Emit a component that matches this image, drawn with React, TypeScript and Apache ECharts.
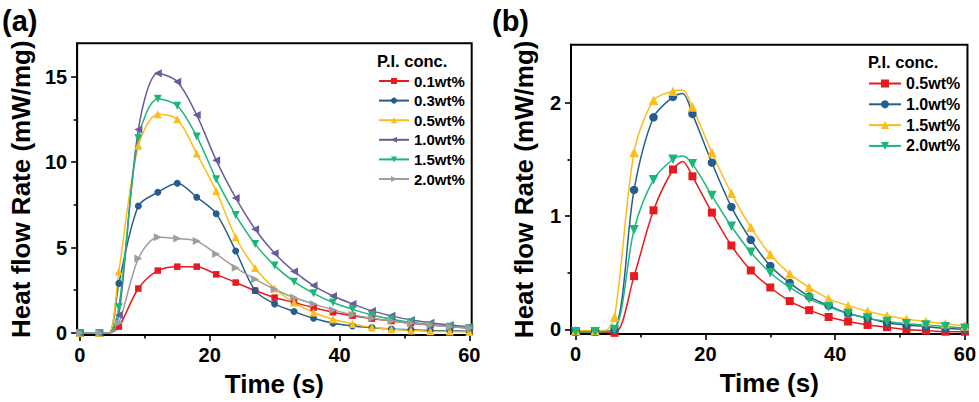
import React, { useEffect, useRef } from "react";
import * as echarts from "echarts";

const FONT = "'Liberation Sans', Arial, Helvetica, sans-serif";

// ---------- panel (a): heat flow for 0.1 - 2.0 wt% P.I. ----------
const timesA = [0, 3, 6, 9, 12, 15, 18, 21, 24, 27, 30, 33, 36, 39, 42, 45, 48, 51, 54, 57, 60];
const namesA = ["0.1wt%", "0.3wt%", "0.5wt%", "1.0wt%", "1.5wt%", "2.0wt%"];
const a01 = [0, 0, 0.37, 2.6, 3.65, 3.88, 3.88, 3.43, 2.95, 2.48, 2.07, 1.78, 1.48, 1.21, 1.01, 0.84, 0.7, 0.57, 0.47, 0.39, 0.31];
const a03 = [0, 0, 2.9, 7.43, 8.23, 8.76, 7.94, 6.98, 4.8, 2.48, 1.7, 1.25, 0.86, 0.57, 0.41, 0.31, 0.23, 0.18, 0.14, 0.12, 0.1];
const a05 = [0, 0, 3.6, 10.95, 12.8, 12.5, 10.5, 8.3, 5.6, 3.8, 2.6, 1.78, 1.2, 0.8, 0.53, 0.33, 0.21, 0.15, 0.1, 0.08, 0.06];
const a10 = [0, 0, 1.05, 11.9, 15.2, 14.7, 12.75, 10.1, 7.9, 6.07, 4.66, 3.6, 2.77, 2.16, 1.7, 1.29, 1.0, 0.76, 0.6, 0.47, 0.37];
const a15 = [0, 0, 1.5, 11.4, 13.7, 13.3, 11.5, 9.0, 6.9, 5.2, 3.94, 3.0, 2.32, 1.78, 1.38, 1.05, 0.8, 0.62, 0.47, 0.37, 0.27];
const a20 = [0, 0, 0.58, 4.35, 5.6, 5.52, 5.38, 4.62, 3.82, 3.14, 2.56, 2.07, 1.7, 1.35, 1.07, 0.86, 0.7, 0.57, 0.47, 0.37, 0.29];
// every curve leaves the baseline at this time (line knot, no marker)
const onsetA: [number, number] = [4.5, 0];
const xMajorA = [0, 20, 40, 60];
const xMinorA = [10, 30, 50];
const yMajorA = [0, 5, 10, 15];
const yMinorA = [2.5, 7.5, 12.5];

// ---------- panel (b): heat flow for 0.5 - 2.0 wt% P.I. ----------
const timesB = [0, 3, 6, 9, 12, 15, 18, 21, 24, 27, 30, 33, 36, 39, 42, 45, 48, 51, 54, 57, 60];
const namesB = ["0.5wt%", "1.0wt%", "1.5wt%", "2.0wt%"];
const b05 = [-0.02, -0.02, -0.03, 0.47, 1.05, 1.41, 1.35, 1.03, 0.74, 0.52, 0.37, 0.25, 0.17, 0.11, 0.07, 0.04, 0.02, 0.0, -0.01, -0.02, -0.02];
const b10 = [-0.02, -0.02, 0.0, 1.23, 1.87, 2.05, 1.9, 1.47, 1.08, 0.79, 0.56, 0.41, 0.29, 0.21, 0.14, 0.1, 0.06, 0.04, 0.025, 0.01, 0.0];
const b15 = [-0.01, -0.01, 0.11, 1.56, 2.02, 2.1, 1.96, 1.56, 1.2, 0.9, 0.66, 0.49, 0.37, 0.27, 0.21, 0.16, 0.12, 0.09, 0.07, 0.05, 0.03];
const b20 = [-0.02, -0.02, 0.0, 0.88, 1.32, 1.5, 1.46, 1.18, 0.91, 0.68, 0.5, 0.37, 0.27, 0.2, 0.14, 0.1, 0.07, 0.05, 0.04, 0.025, 0.01];
// maxima of the traces, reached between two marked samples
const peakTimeB = 16.5;
const peakB = [1.48, 2.08, 2.11, 1.53];
// the 1.5 wt% trace starts rising before the 6 s sample
const onsetB15: [number, number] = [4.5, -0.01];
const xMajorB = [0, 20, 40, 60];
const xMinorB = [10, 30, 50];
const yMajorB = [0, 1, 2];
const yMinorB = [0.5, 1.5];

// ---------- marker styles ----------
const RED = "#E8191F";
const BLUE = "#245E90";
const YELLOW = "#FBBD1A";
const PURPLE = "#6A5C9B";
const GREEN = "#1DB67A";
const GRAY = "#9E9E9E";

const SQUARE = "rect";
const CIRCLE = "circle";
const UP = "triangle";
const DOWN = "path://M0,0L10,0L5,9Z";
const LEFT = "path://M9,0L9,10L0,5Z";
const RIGHT = "path://M0,0L9,5L0,10Z";

type Knot = [number, number];

function buildData(times: number[], values: number[], knots: Knot[]) {
  const pts: { t: number; v: number; marked: boolean }[] = times.map((t, i) => ({ t, v: values[i], marked: true }));
  knots.forEach(([t, v]) => pts.push({ t, v, marked: false }));
  pts.sort((p, q) => p.t - q.t);
  return pts.map((p) => (p.marked ? [p.t, p.v] : { value: [p.t, p.v], symbol: "none" }));
}

interface PanelSpec {
  label: string;
  grid: { left: number; top: number; right: number; bottom: number };
  xRange: [number, number];
  yRange: [number, number];
  xMajor: number[];
  xMinor: number[];
  yMajor: number[];
  yMinor: number[];
  series: { name: string; data: any[]; color: string; symbol: string; size: number }[];
  legend: { left: number; top: number; itemWidth: number; itemHeight: number; itemGap: number; fontSize: number };
  legendTitle: { x: number; y: number };
  yNameGap: number;
  xNameGap: number;
}

function axisText(size: number) {
  return { fontFamily: FONT, fontWeight: "bold" as const, fontSize: size, color: "#000" };
}

function makeOption(p: PanelSpec) {
  const lineW = 2;
  const xBase = {
    type: "value",
    min: p.xRange[0],
    max: p.xRange[1],
    position: "bottom",
    splitLine: { show: false },
  };
  const yBase = {
    type: "value",
    min: p.yRange[0],
    max: p.yRange[1],
    position: "left",
    splitLine: { show: false },
  };
  return {
    animation: false,
    grid: {
      ...p.grid,
      show: true,
      borderColor: "#000",
      borderWidth: lineW,
      backgroundColor: "transparent",
    },
    xAxis: [
      {
        ...xBase,
        name: "Time (s)",
        nameLocation: "middle",
        nameGap: p.xNameGap,
        nameTextStyle: axisText(26),
        axisLine: { show: true, onZero: false, lineStyle: { color: "#000", width: lineW } },
        axisTick: { show: true, length: 6, customValues: p.xMajor, lineStyle: { color: "#000", width: 1.6 } },
        axisLabel: { show: true, customValues: p.xMajor, margin: 10, ...axisText(20) },
      },
      {
        ...xBase,
        axisLine: { show: false, onZero: false },
        axisTick: { show: true, length: 3.5, customValues: p.xMinor, lineStyle: { color: "#000", width: 1.6 } },
        axisLabel: { show: false },
      },
    ],
    yAxis: [
      {
        ...yBase,
        name: "Heat flow Rate (mW/mg)",
        nameLocation: "middle",
        nameGap: p.yNameGap,
        nameRotate: 90,
        nameTextStyle: axisText(26),
        axisLine: { show: true, onZero: false, lineStyle: { color: "#000", width: lineW } },
        axisTick: { show: true, length: 6, customValues: p.yMajor, lineStyle: { color: "#000", width: 1.6 } },
        axisLabel: { show: true, customValues: p.yMajor, margin: 10, ...axisText(20) },
      },
      {
        ...yBase,
        axisLine: { show: false, onZero: false },
        axisTick: { show: true, length: 3.5, customValues: p.yMinor, lineStyle: { color: "#000", width: 1.6 } },
        axisLabel: { show: false },
      },
    ],
    legend: {
      orient: "vertical",
      left: p.legend.left,
      top: p.legend.top,
      padding: 0,
      itemWidth: p.legend.itemWidth,
      itemHeight: p.legend.itemHeight,
      itemGap: p.legend.itemGap,
      selectedMode: false,
      textStyle: { fontFamily: FONT, fontWeight: "bold", fontSize: p.legend.fontSize, color: "#000" },
      data: p.series.map((s) => s.name),
    },
    graphic: [
      {
        type: "text",
        x: 2,
        y: 21,
        style: { text: p.label, fill: "#000", font: `bold 29px ${FONT}`, verticalAlign: "middle", textVerticalAlign: "middle" },
      },
      {
        type: "text",
        x: p.legendTitle.x,
        y: p.legendTitle.y,
        style: { text: "P.I. conc.", fill: "#000", font: `bold 16.5px ${FONT}`, verticalAlign: "middle", textVerticalAlign: "middle" },
      },
    ],
    series: p.series.map((s) => ({
      type: "line",
      name: s.name,
      xAxisIndex: 0,
      yAxisIndex: 0,
      data: s.data,
      smooth: 0.3,
      symbol: s.symbol,
      symbolSize: s.size,
      showAllSymbol: true,
      lineStyle: { color: s.color, width: 1.5 },
      itemStyle: { color: s.color },
      emphasis: { disabled: true },
    })),
  };
}

const panelA: PanelSpec = {
  label: "(a)",
  grid: { left: 74.7, top: 43.3, right: 18.3, bottom: 67 },
  xRange: [-0.43, 60.37],
  yRange: [-0.12, 16.95],
  xMajor: xMajorA,
  xMinor: xMinorA,
  yMajor: yMajorA,
  yMinor: yMinorA,
  series: [
    { name: namesA[0], data: buildData(timesA, a01, [onsetA]), color: RED, symbol: SQUARE, size: 6.5 },
    { name: namesA[1], data: buildData(timesA, a03, [onsetA]), color: BLUE, symbol: CIRCLE, size: 7 },
    { name: namesA[2], data: buildData(timesA, a05, [onsetA]), color: YELLOW, symbol: UP, size: 8 },
    { name: namesA[3], data: buildData(timesA, a10, [onsetA]), color: PURPLE, symbol: LEFT, size: 8 },
    { name: namesA[4], data: buildData(timesA, a15, [onsetA]), color: GREEN, symbol: DOWN, size: 8 },
    { name: namesA[5], data: buildData(timesA, a20, [onsetA]), color: GRAY, symbol: RIGHT, size: 8 },
  ],
  legend: { left: 378, top: 73.5, itemWidth: 30, itemHeight: 7.5, itemGap: 4.6, fontSize: 15 },
  legendTitle: { x: 377, y: 61 },
  yNameGap: 33,
  xNameGap: 36,
};

const panelB: PanelSpec = {
  label: "(b)",
  grid: { left: 81, top: 44.7, right: 9.7, bottom: 68 },
  xRange: [-0.72, 60.4],
  yRange: [-0.04, 2.51],
  xMajor: xMajorB,
  xMinor: xMinorB,
  yMajor: yMajorB,
  yMinor: yMinorB,
  series: [
    { name: namesB[0], data: buildData(timesB, b05, [[peakTimeB, peakB[0]]]), color: RED, symbol: SQUARE, size: 8 },
    { name: namesB[1], data: buildData(timesB, b10, [[peakTimeB, peakB[1]]]), color: BLUE, symbol: CIRCLE, size: 8.5 },
    { name: namesB[2], data: buildData(timesB, b15, [onsetB15, [peakTimeB, peakB[2]]]), color: YELLOW, symbol: UP, size: 9.5 },
    { name: namesB[3], data: buildData(timesB, b20, [[peakTimeB, peakB[3]]]), color: GREEN, symbol: DOWN, size: 9.5 },
  ],
  legend: { left: 378, top: 75.5, itemWidth: 32, itemHeight: 10, itemGap: 4.8, fontSize: 16 },
  legendTitle: { x: 378, y: 62 },
  yNameGap: 34,
  xNameGap: 36,
};

function Panel({ spec, left, width }: { spec: PanelSpec; left: number; width: number }) {
  const ref = useRef<HTMLDivElement>(null);
  useEffect(() => {
    if (!ref.current) return;
    const chart = echarts.init(ref.current, undefined, { renderer: "svg" });
    chart.setOption(makeOption(spec) as any);
    return () => chart.dispose();
  }, [spec]);
  return (
    <div
      ref={ref}
      style={{ position: "absolute", left, top: 0, width, height: 402 }}
    />
  );
}

export default function App() {
  return (
    <div style={{ position: "absolute", left: 0, top: 0, width: 979, height: 402, background: "#fff" }}>
      <Panel spec={panelA} left={0} width={490} />
      <Panel spec={panelB} left={490} width={489} />
    </div>
  );
}
